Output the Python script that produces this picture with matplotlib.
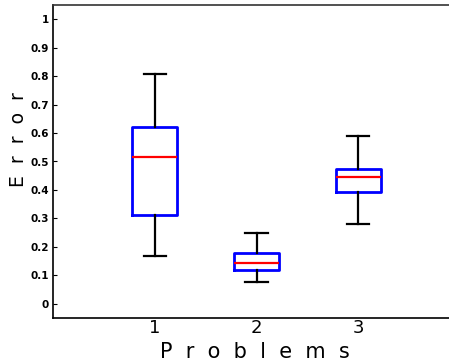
import matplotlib
matplotlib.use('Agg')
import matplotlib.pyplot as plt

problems = ['1', '2', '3']
whislo = [0.167, 0.076, 0.279]
q1 = [0.313, 0.117, 0.392]
med = [0.515, 0.143, 0.445]
q3 = [0.621, 0.178, 0.475]
whishi = [0.806, 0.248, 0.590]
yticks = [0, 0.1, 0.2, 0.3, 0.4, 0.5, 0.6, 0.7, 0.8, 0.9, 1]
ytick_labels = ['0', '0.1', '0.2', '0.3', '0.4', '0.5', '0.6', '0.7', '0.8', '0.9', '1']

stats = []
for i in range(len(problems)):
    stats.append(dict(label=problems[i], whislo=whislo[i], q1=q1[i], med=med[i],
                      q3=q3[i], whishi=whishi[i], fliers=[]))

fig = plt.figure(figsize=(4.49, 3.64), dpi=100)
# axes runs past the right edge, like the cropped original
ax = fig.add_axes([53/449, 1-318/364, (460-53)/449, (318-5)/364])

ax.bxp(stats, positions=[1, 2, 3], widths=0.44, showfliers=False,
       boxprops=dict(color='blue', linewidth=2),
       medianprops=dict(color='red', linewidth=1.6),
       whiskerprops=dict(color='black', linewidth=1.6),
       capprops=dict(color='black', linewidth=1.6), capwidths=0.22)

ax.set_xlim(0, 4)
ax.set_ylim(-0.05, 1.05)
ax.set_yticks(yticks)
ax.set_yticklabels(ytick_labels, fontsize=7.5, fontweight='bold')
ax.tick_params(axis='y', direction='in', length=3, pad=3)
ax.tick_params(axis='x', length=0, labelsize=13, pad=1)
for s in ax.spines.values():
    s.set_linewidth(1.2)
ax.spines['top'].set_color('#333333')
ax.spines['right'].set_visible(False)

ax.set_ylabel('E  r  r  o  r', fontsize=13.5)
ax.yaxis.set_label_coords(-0.062, 0.57)
ax.set_xlabel('P  r  o  b  l  e  m  s', fontsize=15)
ax.xaxis.set_label_coords(0.496, -0.078)

plt.savefig('out.png', dpi=100)
